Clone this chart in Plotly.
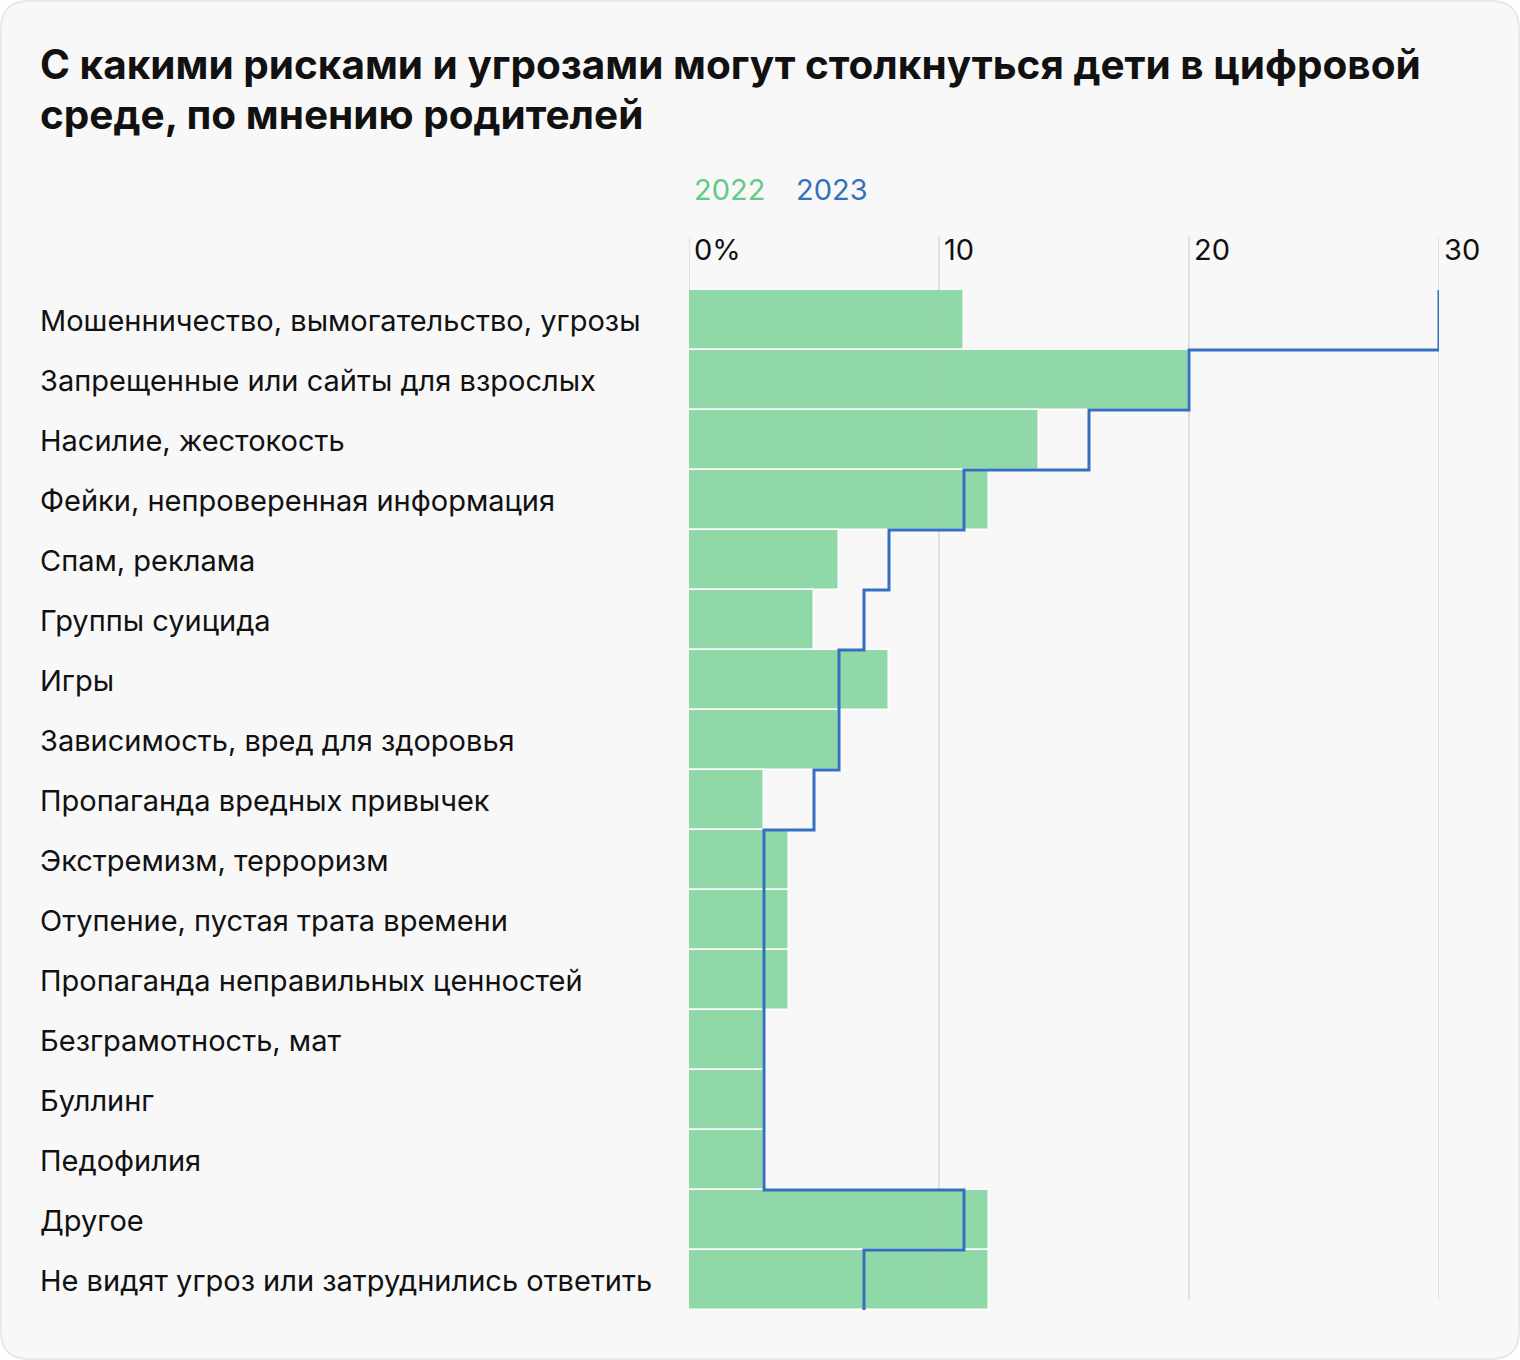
import plotly.graph_objects as go

categories = [
    "Мошенничество, вымогательство, угрозы",
    "Запрещенные или сайты для взрослых",
    "Насилие, жестокость",
    "Фейки, непроверенная информация",
    "Спам, реклама",
    "Группы суицида",
    "Игры",
    "Зависимость, вред для здоровья",
    "Пропаганда вредных привычек",
    "Экстремизм, терроризм",
    "Отупение, пустая трата времени",
    "Пропаганда неправильных ценностей",
    "Безграмотность, мат",
    "Буллинг",
    "Педофилия",
    "Другое",
    "Не видят угроз или затруднились ответить",
]
values_2022 = [11, 20, 14, 12, 6, 5, 8, 6, 3, 4, 4, 4, 3, 3, 3, 12, 12]
values_2023 = [30, 20, 16, 11, 8, 7, 6, 6, 5, 3, 3, 3, 3, 3, 3, 11, 7]
tick_values = [0, 10, 20, 30]
tick_labels = ["0%", "10", "20", "30"]
series_names = ["2022", "2023"]
title_lines = [
    "С какими рисками и угрозами могут столкнуться дети в цифровой",
    "среде, по мнению родителей",
]

W, H = 1520, 1360
L, R, T, B = 689, 81, 290, 50
PW, PH = W - L - R, H - T - B

def px_x(px):
    return (px - L) / PW

def px_y(py):
    return (H - B - py) / PH

GREEN_TXT = "#62c987"
BLUE = "#3570c0"
TEXT = "#111111"
FONT = "Inter"

idx = list(range(len(categories)))

fig = go.Figure()
fig.add_trace(go.Bar(
    x=values_2022, y=idx, orientation="h", width=1,
    marker=dict(color="rgb(138,214,162)", opacity=0.93,
                line=dict(color="white", width=1.5)),
    name=series_names[0], showlegend=False, hoverinfo="x+text",
    hovertext=categories,
))

step_x, step_y = [], []
for i, v in enumerate(values_2023):
    step_x += [v, v]
    step_y += [i - 0.5, i + 0.5]
fig.add_trace(go.Scatter(
    x=step_x, y=step_y, mode="lines",
    line=dict(color=BLUE, width=3), cliponaxis=False,
    name=series_names[1], showlegend=False,
))

shapes = []
# card
x0, x1 = px_x(1), px_x(W - 1)
y0, y1 = px_y(H - 1), px_y(1)
rx, ry = 28 / PW, 28 / PH
path = (f"M {x0+rx},{y1} L {x1-rx},{y1} Q {x1},{y1} {x1},{y1-ry} "
        f"L {x1},{y0+ry} Q {x1},{y0} {x1-rx},{y0} "
        f"L {x0+rx},{y0} Q {x0},{y0} {x0},{y0+ry} "
        f"L {x0},{y1-ry} Q {x0},{y1} {x0+rx},{y1} Z")
shapes.append(dict(type="path", xref="paper", yref="paper", path=path,
                   fillcolor="#f8f8f8", line=dict(color="#e8e8e8", width=2),
                   layer="below"))
for tv in tick_values:
    shapes.append(dict(type="line", xref="x", yref="paper",
                       x0=tv, x1=tv, y0=px_y(1300), y1=px_y(237),
                       line=dict(color="#e0e0e0", width=2), layer="below"))

annotations = []
for line_text, cy in zip(title_lines, [65, 115]):
    annotations.append(dict(
        xref="paper", yref="paper", x=px_x(38), y=px_y(cy),
        xanchor="left", yanchor="middle", align="left", showarrow=False,
        text=f"<b>{line_text}</b>",
        font=dict(family=FONT, size=40.5, color=TEXT),
    ))
annotations.append(dict(
    xref="paper", yref="paper", x=px_x(692), y=px_y(190),
    xanchor="left", yanchor="middle", showarrow=False,
    text=series_names[0], font=dict(family=FONT, size=29, color=GREEN_TXT),
))
annotations.append(dict(
    xref="paper", yref="paper", x=px_x(794), y=px_y(190),
    xanchor="left", yanchor="middle", showarrow=False,
    text=series_names[1], font=dict(family=FONT, size=29, color=BLUE),
))
for tv, tl in zip(tick_values, tick_labels):
    annotations.append(dict(
        xref="x", yref="paper", x=tv, y=px_y(250), xshift=3,
        xanchor="left", yanchor="middle", showarrow=False,
        text=tl, font=dict(family=FONT, size=29, color=TEXT),
    ))
for i, c in enumerate(categories):
    annotations.append(dict(
        xref="paper", yref="y", x=px_x(38), y=i,
        xanchor="left", yanchor="middle", showarrow=False,
        text=c, font=dict(family=FONT, size=29, color=TEXT),
    ))

fig.update_layout(
    width=W, height=H,
    margin=dict(l=L, r=R, t=T, b=B, pad=0),
    paper_bgcolor="white", plot_bgcolor="rgba(0,0,0,0)",
    xaxis=dict(range=[0, 30], showgrid=False, zeroline=False,
               showticklabels=False, ticks="", fixedrange=True),
    yaxis=dict(range=[len(categories) - 0.5, -0.5], showgrid=False,
               zeroline=False, showticklabels=False, ticks="", fixedrange=True),
    bargap=0,
    shapes=shapes, annotations=annotations,
    font=dict(family=FONT),
)

fig.write_html("out.html", config={"displayModeBar": False},
               post_script="document.body.style.margin='0';")
